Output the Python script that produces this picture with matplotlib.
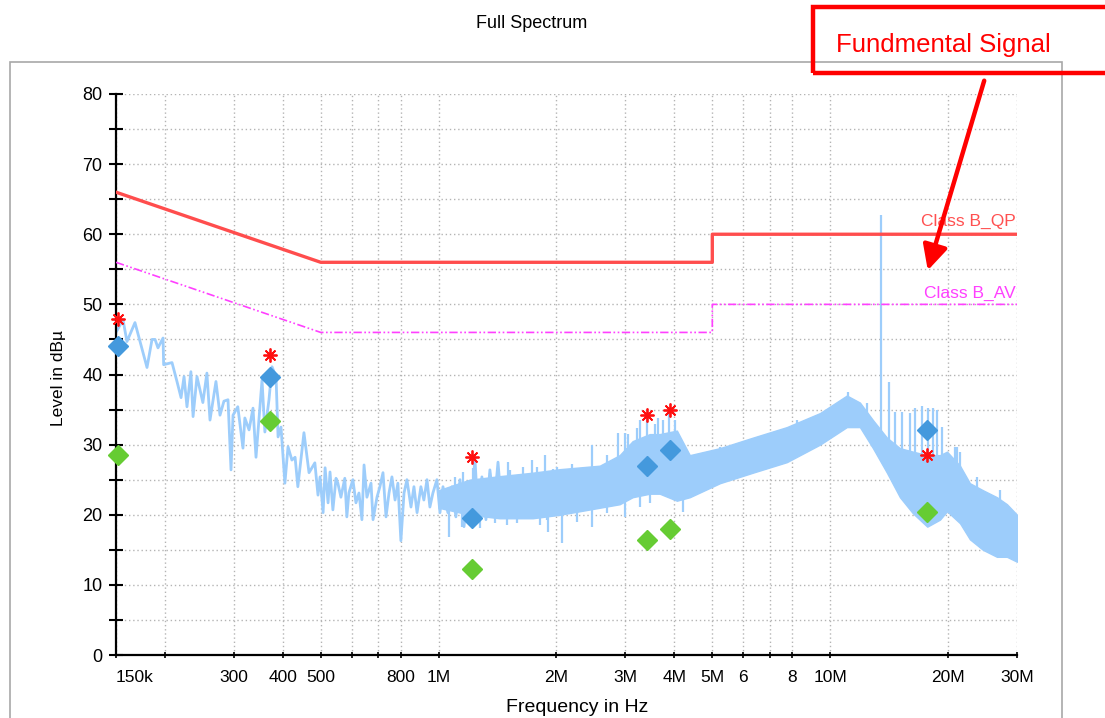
import numpy as np
import matplotlib
matplotlib.use('Agg')
import matplotlib.pyplot as plt
from matplotlib.patches import Rectangle, FancyArrowPatch

plt.rcParams['font.family'] = ['Liberation Sans', 'DejaVu Sans']

# ---------------- data ----------------
# low-frequency part of the measured trace (kHz, dBuV)
line_freq_khz = [150, 156.3, 160, 167.7, 180, 185.4, 188.7, 192, 197.8, 198.5, 208.5, 214.7, 219.9, 223.8,
                 227.7, 233, 236, 241.5, 250, 256, 260.7, 270, 276.5, 283, 289.8, 295, 298.5, 307, 316.5,
                 320, 328, 335.7, 341.7, 354, 360, 368.8, 375.4, 384.4, 389, 395.8, 405, 412.5, 422, 430,
                 437, 453, 466.7, 483, 492, 498, 507, 513, 522, 528, 537, 547, 553, 563, 576, 583, 590,
                 604, 615, 626, 637, 645, 656, 672, 680, 696, 708, 721, 734, 747, 760, 774, 787, 801, 816,
                 830, 850, 865, 881, 901, 917, 934, 950, 967, 990, 1008, 1026, 1056, 1082, 1107, 1134,
                 1161, 1188, 1217, 1238, 1260, 1290, 1321, 1352, 1385, 1418, 1452]
line_level = [46.0, 47.8, 44.7, 47.4, 41.0, 45.0, 45.0, 43.8, 45.2, 41.4, 41.7, 39.0, 36.7, 39.7,
              35.4, 40.4, 34.0, 39.7, 36.0, 40.2, 33.5, 39.0, 34.2, 36.2, 36.4, 26.4, 34.2, 35.4, 29.5,
              33.8, 32.1, 35.2, 28.2, 39.2, 31.8, 36.4, 41.1, 39.7, 31.1, 32.5, 24.5, 29.7, 27.8, 28.2,
              24.0, 31.7, 26.0, 27.4, 22.8, 25.4, 20.3, 26.7, 21.7, 26.1, 20.7, 25.2, 24.5, 22.5, 25.2,
              19.7, 23.1, 25.0, 21.7, 23.1, 19.3, 27.1, 22.5, 24.5, 19.3, 22.5, 24.0, 26.0, 19.7, 23.1,
              25.4, 22.1, 24.5, 16.3, 23.1, 25.0, 21.1, 24.0, 20.3, 24.0, 22.1, 25.0, 21.1, 23.1, 25.0,
              20.3, 24.0, 20.3, 24.0, 19.7, 25.0, 18.3, 23.5, 22.1, 28.1, 20.3, 25.4, 19.3, 26.4, 21.1,
              27.5, 20.3]

# dense part of the trace: upper / lower envelope of the body (MHz, dBuV)
band_freq_mhz = [1.0, 1.2, 1.43, 1.74, 2.04, 2.58, 2.9, 3.13, 3.46, 3.67, 4.06, 4.38, 5.23, 6.35, 7.75,
                 9.42, 11.03, 11.91, 12.86, 13.96, 15.07, 16.27, 17.7, 19.07, 19.88, 21.45, 22.74, 24.55,
                 26.66, 28.28, 30]
band_upper = [23.5, 25.0, 25.5, 26, 26.5, 27, 28.5, 30.5, 31.5, 31.5, 32, 28.5, 29.5, 31, 32.5, 34.5, 37,
              36, 33.5, 31, 29.5, 29, 28.5, 28.5, 29, 27, 24.5, 23.5, 22.5, 21.5, 20]
band_lower = [21, 20, 19.5, 19.5, 20, 21, 21.5, 22.5, 23, 23, 22, 22.5, 24.5, 26, 27.5, 30, 32.5, 32.5,
              29.5, 26, 22.5, 20.2, 18.3, 19.3, 20.5, 18.8, 16.5, 15, 14, 14, 13.3]

# narrow upward spikes in the dense part (MHz, top dBuV, body level they rise from)
up_freq_mhz = [1.101, 1.154, 1.224, 1.352, 1.50, 1.521, 1.643, 1.731, 1.783, 1.869, 1.959, 2.006, 2.19,
               2.46, 2.69, 2.87, 2.99, 3.04, 3.21, 3.27, 3.40, 3.57, 3.63, 3.74, 3.88, 4.01, 4.65, 5.23,
               5.55, 6.45, 8.24, 11.1, 12.41, 14.64, 15.25, 15.99, 16.46, 17.15, 17.76, 18.3, 18.73,
               19.29, 20.82, 21.07, 21.45, 23.7, 27.13]
up_top = [25.4, 26.1, 26.7, 26.0, 27.5, 26.4, 26.8, 27.8, 26.8, 28.5, 26.5, 26.8, 27.2, 30, 28.5, 31.7,
          31.7, 31.5, 32.4, 33.5, 34, 33, 33.8, 33.5, 35, 33.5, 28.5, 29.7, 29.2, 31, 33.5, 37.5, 36,
          34.7, 34.7, 34.5, 35.2, 35.5, 35.2, 35.2, 35, 32.5, 29.7, 29.7, 29, 25.4, 23.5]
up_base = [22, 22, 22, 23, 23, 23, 23, 23, 23, 23, 23.5, 23.5, 24, 24, 25, 25, 26, 26, 27, 27, 28, 28,
           28, 28, 28, 28, 25, 27, 27, 28, 30, 34, 33, 25, 24, 23, 22, 22, 22, 22, 22, 23, 22, 22, 21,
           19, 17]
# narrow downward dips (MHz, bottom dBuV, body level they fall from)
dn_freq_mhz = [1.063, 1.147, 1.275, 1.393, 1.495, 1.585, 1.815, 1.89, 1.902, 2.07, 2.26, 2.46, 2.69,
               2.99, 3.27, 3.465, 3.97, 4.21, 4.65]
dn_bottom = [16.8, 18.3, 18.1, 18.8, 18.5, 18.8, 18.6, 19.3, 17.5, 16.0, 19.0, 18.3, 20.3, 19.7, 21.1,
             21.7, 24.0, 20.4, 23.1]
dn_top = [22, 22, 22, 23, 23, 23, 23, 23, 23, 24, 24, 24, 25, 26, 27, 27, 27, 26, 25]

# fundamental signal and its neighbour
fund_freq_mhz = [13.47, 14.13]
fund_top = [62.8, 39.0]
fund_bottom = [30, 28]

# limit lines
lim_freq_mhz = [0.15, 0.5, 5, 5, 30]
qp_limit = [66, 56, 56, 60, 60]
av_limit = [56, 46, 46, 50, 50]

# final measurement markers
mk_freq_mhz = [0.152, 0.371, 1.217, 3.40, 3.90, 17.7]
peak_level = [47.9, 42.8, 28.2, 34.2, 35.0, 28.5]
qp_level = [44.1, 39.7, 19.5, 27.0, 29.2, 32.1]
av_level = [28.5, 33.4, 12.3, 16.4, 18.0, 20.4]

xtick_vals = [0.15, 0.2, 0.3, 0.4, 0.5, 0.6, 0.7, 0.8, 1, 2, 3, 4, 5, 6, 7, 8, 10, 20, 30]
xtick_labels = ['150k', '', '300', '400', '500', '', '', '800', '1M', '2M', '3M', '4M', '5M', '6', '',
                '8', '10M', '20M', '30M']
ytick_vals = list(range(0, 85, 5))
ytick_labels = [str(v) if v % 10 == 0 else '' for v in ytick_vals]

# ---------------- drawing ----------------
W, H = 1105, 718
fig = plt.figure(figsize=(W / 100, H / 100), dpi=100)

# outer panel frame
fig.add_artist(Rectangle((10 / W, -0.05), (1062 - 10) / W, 1 - 62 / H + 0.05, transform=fig.transFigure,
                         fill=False, ec='#a8a8a8', lw=1.2))

ax = fig.add_axes([116 / W, 1 - 655 / H, (1017 - 116) / W, (655 - 94) / H])
ax.set_xscale('log')
ax.set_xlim(0.15, 30)
ax.set_ylim(0, 80)
ax.xaxis.set_major_locator(matplotlib.ticker.FixedLocator(xtick_vals))
ax.xaxis.set_major_formatter(matplotlib.ticker.FixedFormatter(xtick_labels))
ax.xaxis.set_minor_locator(matplotlib.ticker.NullLocator())
ax.set_yticks(ytick_vals)
ax.set_yticklabels(ytick_labels)
ax.grid(True, color='#b4b4b4', lw=1.0, linestyle=(0, (1, 2)))
ax.set_axisbelow(True)
for s in ['top', 'right']:
    ax.spines[s].set_visible(False)
for s in ['left', 'bottom']:
    ax.spines[s].set_linewidth(1.6)
ax.tick_params(axis='y', direction='inout', length=9.5, width=1.5, labelsize=13, pad=5)
ax.tick_params(axis='x', direction='inout', length=5, width=1.2, labelsize=12.5, pad=8)
first = ax.get_xticklabels()[0]
first.set_horizontalalignment('left')

trace_c = '#9dcdfb'
lf = np.array(line_freq_khz) / 1000.0
ax.plot(lf, line_level, color=trace_c, lw=2.0, zorder=2)
ax.fill_between(band_freq_mhz, band_lower, band_upper, color=trace_c, lw=1.0, ec=trace_c, zorder=2)
ax.vlines(up_freq_mhz, up_base, up_top, color=trace_c, lw=1.6, zorder=2)
ax.vlines(dn_freq_mhz, dn_bottom, dn_top, color=trace_c, lw=1.6, zorder=2)
ax.vlines(fund_freq_mhz, fund_bottom, fund_top, color=trace_c, lw=1.6, zorder=2)

ax.plot(lim_freq_mhz, qp_limit, color='#ff4d4d', lw=2.4, zorder=3)
ax.plot(lim_freq_mhz, av_limit, color='#ff40ff', lw=1.2, linestyle=(0, (5, 1.5, 1, 1.5, 1, 1.5)), zorder=3)
ax.text(29.7, 61.8, 'Class B_QP', color='#ff5050', fontsize=12.5, ha='right', va='center', zorder=4)
ax.text(29.7, 51.6, 'Class B_AV', color='#ff40ff', fontsize=12.5, ha='right', va='center', zorder=4)

ax.plot(mk_freq_mhz, av_level, linestyle='none', marker='D', ms=10, color='#66cc33', zorder=5, clip_on=False)
ax.plot(mk_freq_mhz, qp_level, linestyle='none', marker='D', ms=10, color='#4499dd', zorder=5, clip_on=False)
ax.plot(mk_freq_mhz, peak_level, linestyle='none', marker=(8, 2, 0), ms=10, mew=1.3, color='#ff1010',
        zorder=6, clip_on=False)

# titles and axis labels
fig.text(532 / W, 1 - 24 / H, 'Full Spectrum', ha='center', va='center', fontsize=13)
fig.text(59 / W, 1 - 378 / H, 'Level in dBµ', ha='center', va='center', rotation=90, fontsize=12.5)
fig.text(577 / W, 1 - 708 / H, 'Frequency in Hz', ha='center', va='center', fontsize=14)

# annotation box and arrow
fig.add_artist(Rectangle((813 / W, 1 - 73 / H), (1110 - 813) / W, (73 - 7) / H, transform=fig.transFigure,
                         fill=False, ec='#ff0000', lw=3.2, clip_on=False))
fig.text(836 / W, 1 - 45 / H, 'Fundmental Signal', color='#ff0000', fontsize=18.5, ha='left', va='center')
fig.add_artist(FancyArrowPatch((985 / W, 1 - 78 / H), (927 / W, 1 - 273 / H), transform=fig.transFigure,
                               arrowstyle='-|>,head_length=10,head_width=5', color='#ff0000', lw=3.2,
                               mutation_scale=1.5))

fig.savefig('out.png', dpi=100)
